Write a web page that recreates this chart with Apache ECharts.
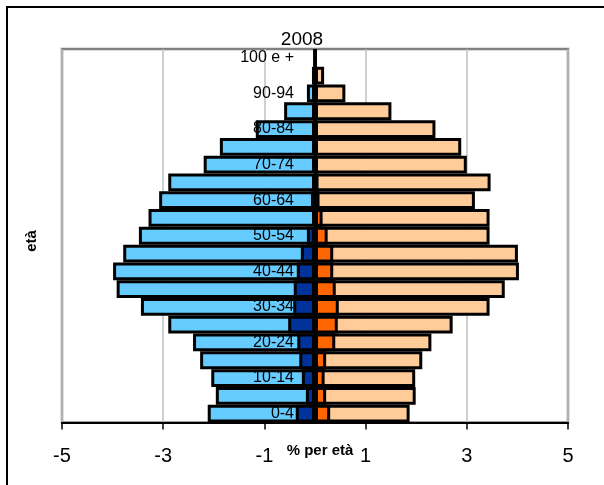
<!DOCTYPE html>
<html>
<head>
<meta charset="utf-8">
<script src="https://cdn.jsdelivr.net/npm/echarts@6/dist/echarts.min.js"></script>
<style>
  html, body { margin: 0; padding: 0; background: #fff; }
  #chart { width: 604px; height: 485px; }
</style>
</head>
<body>
<div id="chart"></div>
<script>
// Age classes, youngest at the bottom
const ageClasses = ['0-4', '5-9', '10-14', '15-19', '20-24', '25-29', '30-34', '35-39',
  '40-44', '45-49', '50-54', '55-59', '60-64', '65-69', '70-74', '75-79', '80-84',
  '85-89', '90-94', '95-99', '100 e +'];

// Share of population (%) per age class; males are plotted as negatives
const maleTotal = [-2.12, -1.96, -2.05, -2.27, -2.41, -2.90, -3.44, -3.92, -3.99, -3.79,
  -3.48, -3.29, -3.08, -2.90, -2.20, -1.88, -1.17, -0.61, -0.16, -0.06, -0.01];
const maleForeign = [-0.38, -0.18, -0.26, -0.31, -0.35, -0.53, -0.43, -0.42, -0.36, -0.28,
  -0.16, -0.05, -0.08, -0.04, -0.02, -0.01, -0.01, 0, 0, 0, 0];
const femaleTotal = [1.87, 1.99, 1.98, 2.12, 2.30, 2.72, 3.45, 3.75, 4.03, 4.01,
  3.45, 3.45, 3.16, 3.47, 3.00, 2.89, 2.38, 1.51, 0.60, 0.18, 0.02];
const femaleForeign = [0.30, 0.22, 0.19, 0.22, 0.40, 0.45, 0.47, 0.41, 0.36, 0.36,
  0.25, 0.15, 0.09, 0.07, 0.02, 0.01, 0.01, 0, 0, 0, 0];

const xTicks = { min: -5, max: 5, step: 2 };

const FONT = 'Liberation Sans, Arial, sans-serif';

// Plot frame (pixels)
const PLOT = { left: 62, right: 36, top: 49, bottom: 62.5 };
const PLOT_W = 604 - PLOT.left - PLOT.right;
// pixel offset of the zero line from the plot's left edge
const ZERO_OFFSET = PLOT_W * (0 - xTicks.min) / (xTicks.max - xTicks.min);

function barSeries(name, data, color) {
  return {
    name: name,
    type: 'bar',
    data: data,
    barGap: '-100%',
    barCategoryGap: '0%',
    itemStyle: { color: color, borderColor: '#000', borderWidth: 3 },
    emphasis: { disabled: true },
    animation: false
  };
}

const chart = echarts.init(document.getElementById('chart'), null, { renderer: 'canvas' });

const series = [
  barSeries('Maschi', maleTotal, '#66CCFF'),
  barSeries('Maschi stranieri', maleForeign, '#003399'),
  barSeries('Femmine', femaleTotal, '#FFCC99'),
  barSeries('Femmine straniere', femaleForeign, '#FF6600')
];
// vertical zero line drawn over the bars
series[3].markLine = {
  silent: true,
  symbol: 'none',
  label: { show: false },
  lineStyle: { color: '#000', width: 3, type: 'solid' },
  data: [{ xAxis: 0 }],
  z: 5
};

chart.setOption({
  backgroundColor: '#fff',
  animation: false,
  title: {
    text: '2008',
    left: 'center',
    top: 25,
    textStyle: { fontFamily: FONT, fontSize: 19, fontWeight: 'normal', color: '#000' }
  },
  grid: [
    {
      left: PLOT.left, right: PLOT.right, top: PLOT.top, bottom: PLOT.bottom,
      outerBoundsMode: 'none', containLabel: false,
      show: true, borderColor: '#808080', borderWidth: 2.5, backgroundColor: 'transparent'
    },
    {
      // left half of the plot, used to place the age labels next to the zero line
      left: PLOT.left, width: ZERO_OFFSET, top: PLOT.top, bottom: PLOT.bottom,
      outerBoundsMode: 'none', containLabel: false, show: false
    }
  ],
  xAxis: [
    {
      type: 'value',
      gridIndex: 0,
      min: xTicks.min,
      max: xTicks.max,
      interval: xTicks.step,
      name: '% per età',
      nameLocation: 'middle',
      nameGap: 21,
      nameMoveOverlap: false,
      nameTextStyle: { fontFamily: FONT, fontSize: 15, fontWeight: 'bold', color: '#000', padding: [0, 0, 0, 10] },
      axisLine: { show: true, onZero: false, lineStyle: { color: '#000', width: 2 } },
      axisTick: { show: true, length: 7, lineStyle: { color: '#000', width: 1.5 } },
      axisLabel: { fontFamily: FONT, fontSize: 20, color: '#000', margin: 24 },
      splitLine: { show: true, lineStyle: { color: '#C0C0C0', width: 1.5 } }
    },
    {
      type: 'value',
      gridIndex: 1,
      show: false
    }
  ],
  yAxis: [
    {
      type: 'category',
      gridIndex: 0,
      data: ageClasses,
      axisLine: { show: false },
      axisTick: { show: false },
      axisLabel: { show: false },
      splitLine: { show: false }
    },
    {
      type: 'category',
      gridIndex: 1,
      data: ageClasses,
      position: 'right',
      z: 10,
      axisLine: { show: false },
      axisTick: { show: false },
      axisLabel: { inside: true, interval: 1, fontFamily: FONT, fontSize: 16, color: '#000', margin: 21 },
      splitLine: { show: false }
    }
  ],
  series: series,
  graphic: [
    {
      type: 'rect',
      shape: { x: 7, y: 7, width: 640, height: 520 },
      style: { fill: 'none', stroke: '#000', lineWidth: 2 },
      silent: true
    },
    {
      type: 'text',
      x: 32, y: 241,
      rotation: Math.PI / 2,
      style: {
        text: 'età', fontFamily: FONT, fontSize: 15, fontWeight: 'bold', fill: '#000',
        align: 'center', verticalAlign: 'middle'
      },
      silent: true
    }
  ]
});
</script>
</body>
</html>
